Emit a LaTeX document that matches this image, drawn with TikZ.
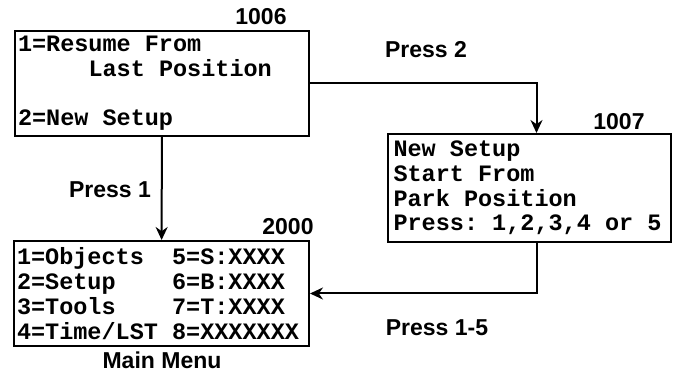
\documentclass[tikz,border=0pt]{standalone}
\usepackage{fontspec}
\usetikzlibrary{arrows.meta,positioning}
\newfontfamily\lcdfont{Liberation Mono}
\newfontfamily\tagfont{Liberation Sans}
\newcommand\lcdgap{\hspace*{0.6em}}
\newcommand\lcdcol[1]{\makebox[6.6em][l]{#1}}

\begin{document}
\begin{tikzpicture}[
  x=1pt,
  y=-1pt,
  line width=2pt,
  screen/.style={
    draw,
    anchor=north west,
    align=left,
    inner sep=3pt,
    font=\lcdfont\bfseries\fontsize{23.5}{24.8}\selectfont
  },
  tag/.style={
    font=\tagfont\bfseries\fontsize{23}{26}\selectfont
  },
  flow/.style={
    -{Stealth[length=13pt,width=12pt]}
  }
]
  \useasboundingbox (0,0) rectangle (673,374);
  % screens
  \node[screen, minimum width=294pt, minimum height=105pt, text width=288pt] (s1006) at (14,30)
    {1=Resume\lcdgap From\\ \phantom{00000}Last\lcdgap Position\\ ~\\ 2=New\lcdgap Setup};
  \node[screen, minimum width=283pt, minimum height=108pt, text width=272pt, inner sep=5pt] (s1007) at (387,133)
    {New\lcdgap Setup\\ Start\lcdgap From\\ Park\lcdgap Position\\ Press:\lcdgap 1,2,3,4\lcdgap or\lcdgap 5};
  \node[screen, minimum width=295pt, minimum height=105pt, text width=289pt] (s2000) at (13,240)
    {\lcdcol{1=Objects}5=S:XXXX\\
     \lcdcol{2=Setup}6=B:XXXX\\
     \lcdcol{3=Tools}7=T:XXXX\\
     \lcdcol{4=Time/LST}8=XXXXXXX};
  % screen numbers
  \node[tag] (n1006) at (261,17) {1006};
  \node[tag] (n1007) at (619,122) {1007};
  \node[tag] (n2000) at (288,227) {2000};
  \node[tag] (mainmenu) at (162,360) {Main Menu};
  % keys
  \node[tag] (press1) at (110,190) {Press 1};
  \node[tag] (press2) at (426,50) {Press 2};
  \node[tag] (press15) at (437,328) {Press 1-5};
  \draw[flow] (s1006) -- (s2000);
  \draw[flow] (s1006.east) -| ([xshift=7pt]s1007.north);
  \draw[flow] ([xshift=7pt]s1007.south) |- (s2000.east);
\end{tikzpicture}
\end{document}
